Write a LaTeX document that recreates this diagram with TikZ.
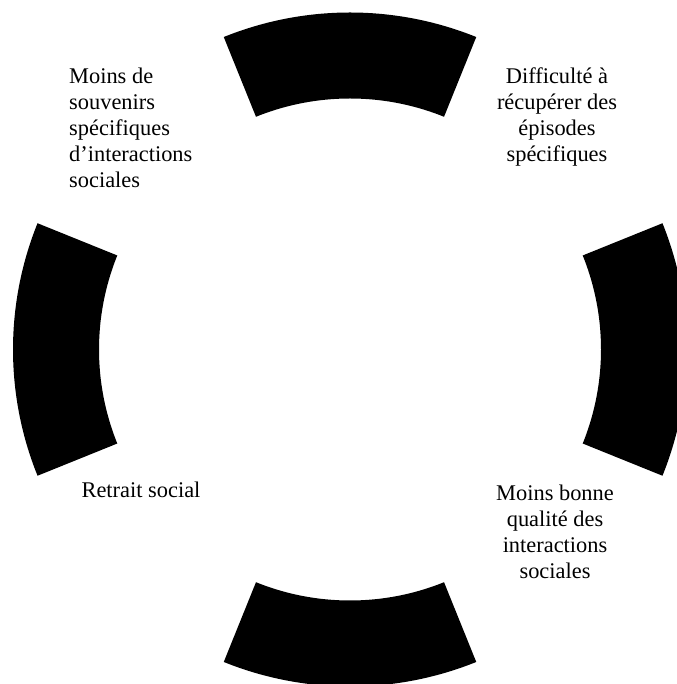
\documentclass[tikz,border=0pt]{standalone}
\usepackage{fontspec}
\setmainfont{Liberation Serif}
\usetikzlibrary{calc}
\begin{document}
\begin{tikzpicture}[x=1pt,y=1pt,
  lbl/.style={font=\fontsize{22.4}{26}\selectfont, inner sep=0pt, align=center},
  seg/.style={fill=black}]
\useasboundingbox (0,0) rectangle (676,684);
\coordinate (c) at (350,334.5);
\foreach \a in {90,0,270,180}{
  \fill[seg] ($(c)+(\a-22:337)$) arc[start angle=\a-22,end angle=\a+22,radius=337]
     -- ($(c)+(\a+22:251)$) arc[start angle=\a+22,end angle=\a-22,radius=251] -- cycle;
}
\node[lbl, align=left, anchor=north west] (tl) at (69,616.5) {Moins de\\souvenirs\\spécifiques\\d’interactions\\sociales};
\node[lbl, anchor=north] (tr) at (557,616.5) {Difficulté à\\récupérer des\\épisodes\\spécifiques};
\node[lbl, anchor=north] (br) at (555,199.5) {Moins bonne\\qualité des\\interactions\\sociales};
\node[lbl, anchor=base] (bl) at (141,186) {Retrait social};
\end{tikzpicture}
\end{document}
